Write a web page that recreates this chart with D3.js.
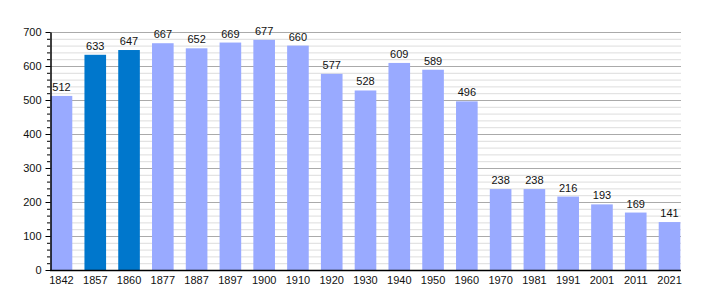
<!DOCTYPE html>
<html><head><meta charset="utf-8">
<script src="https://cdn.jsdelivr.net/npm/d3@7"></script>
<style>body{margin:0;background:#fff}svg{display:block}</style>
</head><body>
<script>
const years = ["1842","1857","1860","1877","1887","1897","1900","1910","1920","1930","1940","1950","1960","1970","1981","1991","2001","2011","2021"];
const population = [512,633,647,667,652,669,677,660,577,528,609,589,496,238,238,216,193,169,141];
const highlighted = ["1857","1860"];
const yTicks = [0,100,200,300,400,500,600,700];

const W=710,H=300, m={l:50,r:29,t:32,b:30};
const svg=d3.select("body").append("svg").attr("width",W).attr("height",H);
const x=d3.scaleBand().domain(years).range([m.l,W-m.r]).paddingInner(0.36).paddingOuter(0.02);
const y=d3.scaleLinear().domain([0,700]).range([H-m.b,m.t]);

const minor=d3.range(0,701,20).filter(v=>v%100!==0);
svg.append("g").selectAll("line").data(minor).join("line")
 .attr("x1",m.l).attr("x2",W-m.r).attr("y1",d=>y(d)+0.5).attr("y2",d=>y(d)+0.5)
 .attr("stroke","#dddddd").attr("stroke-width",1);
svg.append("g").selectAll("line").data(yTicks.slice(1)).join("line")
 .attr("x1",m.l).attr("x2",W-m.r).attr("y1",d=>y(d)+0.5).attr("y2",d=>y(d)+0.5)
 .attr("stroke","#aaaaaa").attr("stroke-width",1);

svg.append("g").selectAll("rect").data(years).join("rect")
 .attr("x",d=>x(d)).attr("width",x.bandwidth())
 .attr("y",(d,i)=>y(population[i])).attr("height",(d,i)=>y(0)-y(population[i]))
 .attr("fill",d=>highlighted.includes(d)?"#0077cc":"#99aaff");

svg.append("g").selectAll("text").data(years).join("text")
 .attr("x",d=>x(d)+x.bandwidth()/2).attr("y",(d,i)=>y(population[i])-5)
 .attr("text-anchor","middle").attr("font-family","Liberation Sans, Arial, sans-serif")
 .attr("font-size",11).attr("fill","#111").text((d,i)=>population[i]);

// y axis minor ticks
svg.append("g").selectAll("line").data(minor).join("line")
 .attr("x1",m.l-3).attr("x2",m.l).attr("y1",d=>y(d)+0.5).attr("y2",d=>y(d)+0.5)
 .attr("stroke","#000");
const ya=svg.append("g").attr("transform",`translate(${m.l+0.5},0)`)
 .call(d3.axisLeft(y).tickValues(yTicks).tickSize(5).tickSizeOuter(0).tickPadding(4));
ya.select(".domain").attr("stroke","#000").attr("stroke-width",1.5);
ya.selectAll("text").attr("font-family","Liberation Sans, Arial, sans-serif").attr("font-size",11).attr("fill","#111");

const xa=svg.append("g").attr("transform",`translate(0,${y(0)+0.5})`)
 .call(d3.axisBottom(x).tickSize(0).tickSizeOuter(0).tickPadding(6));
xa.select(".domain").attr("stroke","#000").attr("stroke-width",1.5).attr("d",`M${m.l},0H${W-m.r}`);
xa.selectAll("text").attr("font-family","Liberation Sans, Arial, sans-serif").attr("font-size",11).attr("fill","#111");
</script>
</body></html>
